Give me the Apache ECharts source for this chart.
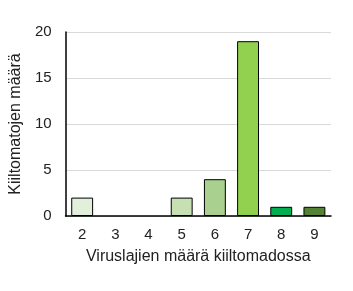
<!DOCTYPE html>
<html><head><meta charset="utf-8">
<script src="https://cdn.jsdelivr.net/npm/echarts@6/dist/echarts.min.js"></script>
<style>html,body{margin:0;padding:0;background:#fff}#c{width:353px;height:291px}</style>
</head><body><div id="c"></div>
<script>
var categories = ['2','3','4','5','6','7','8','9'];
var values = [2, 0, 0, 2, 4, 19, 1, 1];
var barColors = ['#e2efda','#e2efda','#e2efda','#c6e0b4','#a9d08e','#92d050','#00b050','#548235'];
var yTicks = [0, 5, 10, 15, 20];
var chart = echarts.init(document.getElementById('c'));
chart.setOption({
  animation: false,
  grid: {left: 63, right: 22, top: 32, bottom: 75, containLabel: false},
  xAxis: {
    type: 'category', data: categories,
    name: 'Viruslajien määrä kiiltomadossa', nameLocation: 'middle', nameGap: 33,
    nameTextStyle: {color: '#222', fontSize: 16, fontFamily: 'Liberation Sans'},
    axisLine: {lineStyle: {color: '#000', width: 1.5}},
    axisTick: {show: false},
    axisLabel: {color: '#222', fontSize: 15, margin: 11, fontFamily: 'Liberation Sans'}
  },
  yAxis: {
    type: 'value', min: 0, max: 20, interval: 5,
    name: 'Kiiltomatojen määrä', nameLocation: 'middle', nameGap: 36, nameRotate: 90,
    nameTextStyle: {color: '#222', fontSize: 16, fontFamily: 'Liberation Sans'},
    axisLine: {show: true, lineStyle: {color: '#000', width: 1.5}},
    axisTick: {show: false},
    splitLine: {lineStyle: {color: '#d9d9d9'}},
    axisLabel: {color: '#222', fontSize: 15, margin: 14, fontFamily: 'Liberation Sans',
      formatter: function(v){ return yTicks.indexOf(v) >= 0 ? String(v) : ''; }}
  },
  series: [{
    type: 'bar', barCategoryGap: '34%',
    data: values.map(function(v, i){
      return {value: v, itemStyle: {color: barColors[i], borderWidth: v === 0 ? 0 : 1}};
    }),
    itemStyle: {borderColor: '#000', borderWidth: 1}
  }]
});
</script></body></html>
